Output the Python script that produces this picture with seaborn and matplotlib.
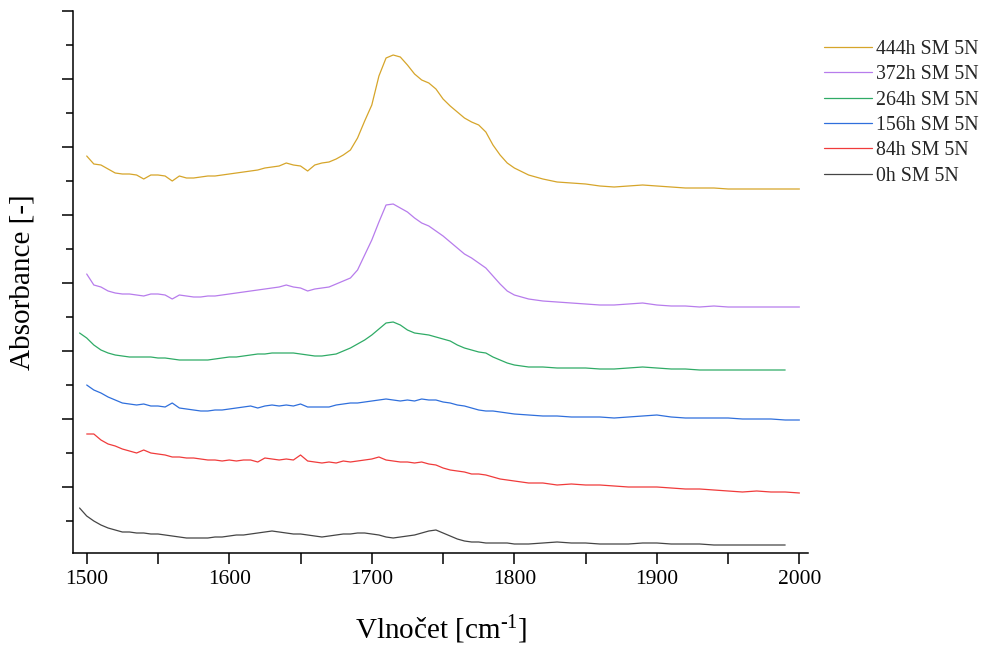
import numpy as np
import pandas as pd
import seaborn as sns
import matplotlib
matplotlib.use("Agg")
import matplotlib.pyplot as plt
from matplotlib.ticker import MultipleLocator

# Wavenumber grid of the exported spectra [cm-1]
WAVENUMBER = list(range(1495, 1801, 5)) + list(range(1810, 2001, 10))

nan = np.nan
# Stacked absorbance traces (offset for display, arbitrary units)
A_444H = [nan, 399, 391, 390, 386, 382, 381, 381, 380, 376,
          380, 380, 379, 374, 379, 377, 377, 378, 379, 379,
          380, 381, 382, 383, 384, 385, 387, 388, 389, 392,
          390, 389, 384, 390, 392, 393, 396, 400, 405, 417,
          434, 450, 479, 497, 500, 498, 490, 481, 475, 472,
          466, 456, 449, 443, 437, 433, 430, 423, 410, 400,
          392, 387,
          380, 376, 373, 372, 371, 369, 368, 369, 370, 369,
          368, 367, 367, 367, 366, 366, 366, 366, 366, 366]
A_372H = [nan, 281, 270, 268, 264, 262, 261, 261, 260, 259,
          261, 261, 260, 256, 260, 259, 258, 258, 259, 259,
          260, 261, 262, 263, 264, 265, 266, 267, 268, 270,
          268, 267, 264, 266, 267, 268, 271, 274, 277, 285,
          300, 315, 333, 350, 351, 347, 343, 337, 332, 329,
          324, 319, 313, 307, 301, 297, 292, 287, 279, 271,
          264, 260,
          256, 254, 253, 252, 251, 250, 250, 251, 252, 250,
          249, 249, 248, 249, 248, 248, 248, 248, 248, 248]
A_264H = [222, 217, 210, 205, 202, 200, 199, 198, 198, 198,
          198, 197, 197, 196, 195, 195, 195, 195, 195, 196,
          197, 198, 198, 199, 200, 201, 201, 202, 202, 202,
          202, 201, 200, 199, 199, 200, 201, 204, 207, 211,
          215, 220, 226, 232, 233, 230, 225, 222, 221, 220,
          218, 216, 214, 210, 207, 205, 203, 202, 198, 195,
          192, 190,
          188, 188, 187, 187, 187, 186, 186, 187, 188, 187,
          186, 186, 185, 185, 185, 185, 185, 185, 185, nan]
A_156H = [nan, 170, 165, 162, 158, 155, 152, 151, 150, 151,
          149, 149, 148, 152, 147, 146, 145, 144, 144, 145,
          145, 146, 147, 148, 149, 147, 149, 150, 149, 150,
          149, 151, 148, 148, 148, 148, 150, 151, 152, 152,
          153, 154, 155, 156, 155, 154, 155, 154, 156, 155,
          155, 153, 152, 150, 149, 147, 145, 144, 144, 143,
          142, 141,
          140, 139, 139, 138, 138, 138, 137, 138, 139, 140,
          138, 137, 137, 137, 137, 136, 136, 136, 135, 135]
A_84H = [nan, 121, 121, 115, 111, 109, 106, 104, 102, 105,
         102, 101, 100, 98, 98, 97, 97, 96, 95, 95,
         94, 95, 94, 95, 95, 93, 97, 96, 95, 96,
         95, 100, 94, 93, 92, 93, 92, 94, 93, 94,
         95, 96, 98, 95, 94, 93, 93, 92, 93, 91,
         90, 87, 85, 84, 83, 81, 81, 80, 78, 76,
         75, 74,
         72, 72, 70, 71, 70, 70, 69, 68, 68, 68,
         67, 66, 66, 65, 64, 63, 64, 63, 63, 62]
A_0H = [47, 39, 34, 30, 27, 25, 23, 23, 22, 22,
        21, 21, 20, 19, 18, 17, 17, 17, 17, 18,
        18, 19, 20, 20, 21, 22, 23, 24, 23, 22,
        21, 21, 20, 19, 18, 19, 20, 21, 21, 22,
        22, 21, 20, 18, 17, 18, 19, 20, 22, 24,
        25, 22, 19, 16, 14, 13, 13, 12, 12, 12,
        12, 11,
        11, 12, 13, 12, 12, 11, 11, 11, 12, 12,
        11, 11, 11, 10, 10, 10, 10, 10, 10, nan]

LABELS = ["444h SM 5N", "372h SM 5N", "264h SM 5N",
          "156h SM 5N", "84h SM 5N", "0h SM 5N"]
COLORS = ["#D6A52A", "#B77CEC", "#2FAB66", "#2F6FDC", "#F03B3B", "#454545"]
SERIES = [A_444H, A_372H, A_264H, A_156H, A_84H, A_0H]

frames = [pd.DataFrame({"wn": WAVENUMBER, "absorbance": vals, "sample": lab})
          for lab, vals in zip(LABELS, SERIES)]
df = pd.concat(frames, ignore_index=True).dropna()

sns.set_theme(style="ticks")
plt.rcParams["font.family"] = ["Liberation Serif", "DejaVu Serif"]
plt.rcParams["mathtext.fontset"] = "custom"
plt.rcParams["mathtext.rm"] = "Liberation Serif"
plt.rcParams["mathtext.it"] = "Liberation Serif:italic"

W, H = 987, 646
fig = plt.figure(figsize=(W / 100, H / 100), dpi=100)
left, right, top, bottom = 73.3, 808.0, 10.7, 553.0
ax = fig.add_axes([left / W, 1 - bottom / H, (right - left) / W, (bottom - top) / H])

sns.lineplot(data=df, x="wn", y="absorbance", hue="sample", hue_order=LABELS,
             palette=COLORS, linewidth=0.9, estimator=None, sort=False, ax=ax)

ax.set_xlim(1490.6, 2006)
ax.set_ylim(2, 544.3)
ax.xaxis.set_major_locator(MultipleLocator(100))
ax.xaxis.set_minor_locator(MultipleLocator(50))
ax.yaxis.set_major_locator(MultipleLocator(68))
ax.yaxis.set_minor_locator(MultipleLocator(34))

sns.despine(ax=ax)
for side in ("left", "bottom"):
    ax.spines[side].set_linewidth(1.1)
    ax.spines[side].set_color("black")

ax.tick_params(axis="x", which="both", direction="out", length=8, width=1.1,
               color="black", labelcolor="black", labelsize=15.5, pad=4)
ax.tick_params(axis="y", which="major", direction="out", length=8, width=1.1,
               color="black", labelleft=False)
ax.tick_params(axis="y", which="minor", direction="out", length=5, width=1.1,
               color="black", labelleft=False)

ax.set_xlabel("Vlnočet [cm$^{\\text{-}1}$]", fontsize=21, color="black")
ax.set_ylabel("Absorbance [-]", fontsize=21, color="black")
ax.xaxis.set_label_coords(0.5, -0.112)
ax.yaxis.set_label_coords(-0.051, 0.5)

handles, labels = ax.get_legend_handles_labels()
ax.legend(handles, labels, loc="upper left",
          bbox_to_anchor=(824 / W, 1 - 40 / H), bbox_transform=fig.transFigure,
          frameon=False, fontsize=14.3, handlelength=2.4, handletextpad=0.22,
          labelspacing=0.32, borderpad=0, borderaxespad=0)

fig.savefig("out.png", dpi=100)
